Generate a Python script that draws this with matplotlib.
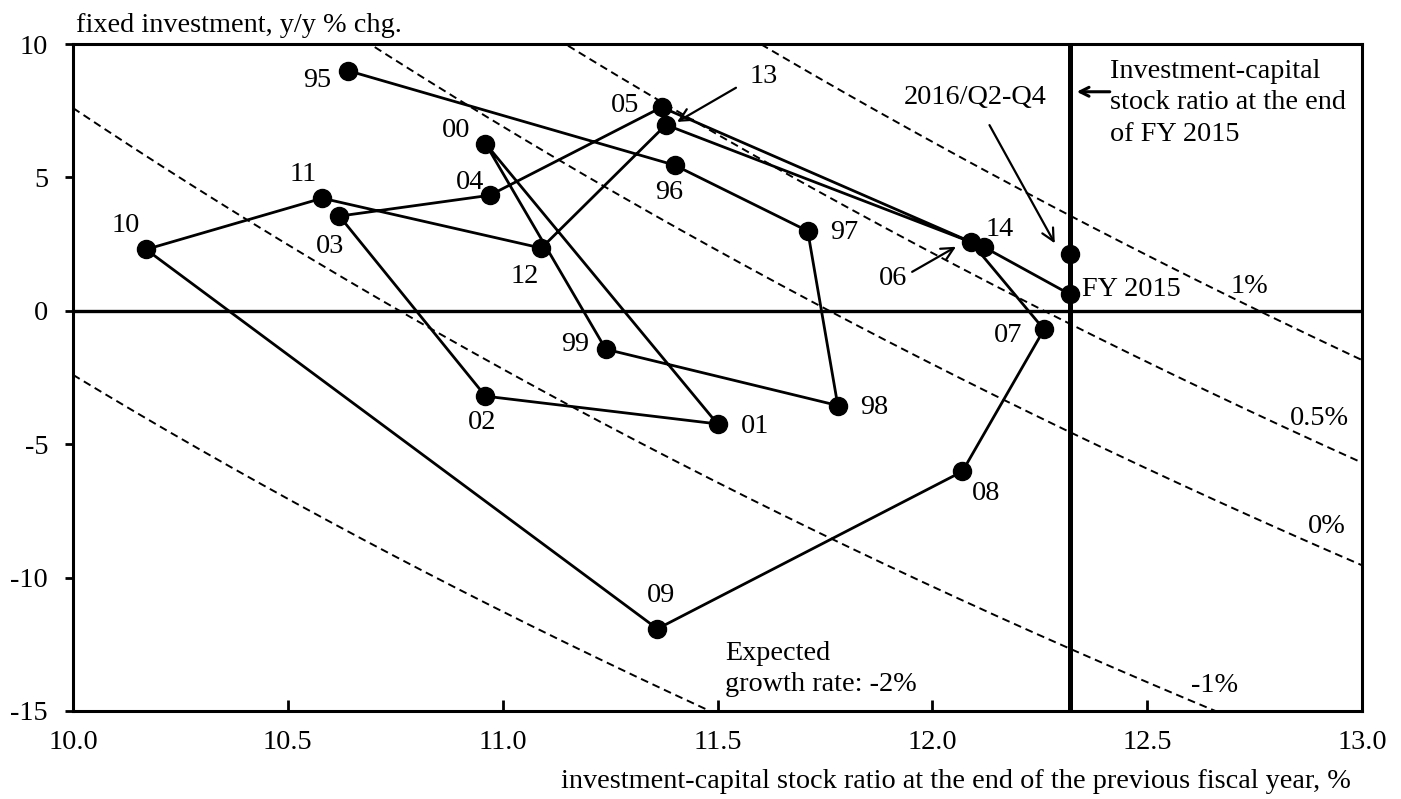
import numpy as np
import matplotlib
matplotlib.use("Agg")
import matplotlib.pyplot as plt

plt.rcParams['font.family'] = ['Liberation Serif', 'DejaVu Serif']

# ---- data ----
years = ['95', '96', '97', '98', '99', '00', '01', '02', '03', '04', '05',
         '06', '07', '08', '09', '10', '11', '12', '13', '14', 'FY 2015']
ik_ratio = [10.64, 11.40, 11.71, 11.78, 11.24, 10.96, 11.50, 10.96, 10.62, 10.97, 11.37,
            12.09, 12.26, 12.07, 11.36, 10.17, 10.58, 11.09, 11.38, 12.12, 12.32]
inv_growth = [9.00, 5.46, 2.99, -3.55, -1.44, 6.27, -4.24, -3.20, 3.55, 4.33, 7.63,
              2.58, -0.70, -6.02, -11.92, 2.30, 4.22, 2.35, 6.97, 2.39, 0.62]
label_x = [10.568, 11.388, 11.794, 11.865, 11.168, 10.891, 11.587, 10.952, 10.599, 10.924, 11.284,
           11.909, 12.177, 12.126, 11.368, 10.123, 10.535, 11.052, 11.607, 12.157, 12.349]
label_y = [8.63, 4.45, 2.92, -3.64, -1.25, 6.75, -4.33, -4.18, 2.40, 4.81, 7.69,
           1.21, -0.94, -6.84, -10.67, 3.20, 5.09, 1.27, 8.80, 3.05, 0.79]

q2016_x = [12.32]
q2016_y = [2.12]
fy2015_ratio = 12.32

growth_rates = [-2.0, -1.0, 0.0, 0.5, 1.0]
depreciation_rate = 11.76
growth_labels = ['Expected\ngrowth rate: -2%', '-1%', '0%', '0.5%', '1%']

xticks = [10.0, 10.5, 11.0, 11.5, 12.0, 12.5, 13.0]
yticks = [-15, -10, -5, 0, 5, 10]

FS = 20.3

fig = plt.figure(figsize=(14.01, 7.99), dpi=100)
ax = fig.add_axes([73/1401, 1-711/799, 1289/1401, 667/799])
ax.set_xlim(10.0, 13.0)
ax.set_ylim(-15, 10)

# iso expected-growth curves
xs = np.linspace(10.0, 13.0, 400)
for g in growth_rates:
    ys = 100.0 * (g + depreciation_rate) / xs - 100.0
    ax.plot(xs, ys, color='black', lw=1.4, linestyle=(0, (4, 2.5)), zorder=1)

# reference lines
ax.axhline(0, color='black', lw=2.4, zorder=2)
ax.axvline(fy2015_ratio, color='black', lw=3.6, zorder=2)

# path
ax.plot(ik_ratio, inv_growth, color='black', lw=2.0, marker='o', ms=13,
        markerfacecolor='black', markeredgecolor='black', zorder=4)
ax.plot(q2016_x, q2016_y, 'o', color='black', ms=13, zorder=4)

for lab, lx, ly in zip(years, label_x, label_y):
    ha = 'left' if lab == 'FY 2015' else 'center'
    ax.text(lx, ly, lab, ha=ha, va='center', fontsize=FS, zorder=5)

# arrows
arrow = dict(arrowstyle='->', color='black', lw=1.6, mutation_scale=22, shrinkA=0, shrinkB=0)
ax.annotate('', xy=(11.406, 7.08), xytext=(11.543, 8.36), arrowprops=arrow)
ax.annotate('', xy=(12.055, 2.40), xytext=(11.953, 1.46), arrowprops=arrow)
ax.annotate('', xy=(12.285, 2.53), xytext=(12.133, 6.96), arrowprops=arrow)
ax.text(12.10, 8.0, '2016/Q2-Q4', ha='center', va='center', fontsize=FS)
ax.annotate('', xy=(12.336, 8.21), xytext=(12.413, 8.21),
            arrowprops=dict(arrowstyle='->', color='black', lw=2.2, mutation_scale=16,
                            shrinkA=0, shrinkB=0))
ax.text(12.414, 7.80, 'Investment-capital\nstock ratio at the end\nof FY 2015',
        ha='left', va='center', fontsize=FS, linespacing=1.35)

# growth-rate labels
ax.text(11.518, -13.43, growth_labels[0], ha='left', va='center', fontsize=FS, linespacing=1.35)
ax.text(12.657, -14.05, growth_labels[1], ha='center', va='center', fontsize=FS)
ax.text(12.918, -8.09, growth_labels[2], ha='center', va='center', fontsize=FS)
ax.text(12.90, -4.02, growth_labels[3], ha='center', va='center', fontsize=FS)
ax.text(12.737, 0.92, growth_labels[4], ha='center', va='center', fontsize=FS)

# axes styling
ax.set_xticks(xticks)
ax.set_xticklabels([f'{t:.1f}' for t in xticks])
ax.set_yticks(yticks)
ax.set_yticklabels([str(t) for t in yticks])
ax.tick_params(axis='x', direction='in', length=8, width=2, pad=14, labelsize=FS)
ax.tick_params(axis='y', direction='out', length=6, width=2, pad=12, labelsize=FS)
for s in ax.spines.values():
    s.set_linewidth(2.2)

fig.text(76/1401, 1-25/799, 'fixed investment, y/y % chg.', ha='left', va='center', fontsize=FS)
fig.text(1351/1401, 1-782/799,
         'investment-capital stock ratio at the end of the previous fiscal year, %',
         ha='right', va='center', fontsize=FS)

fig.savefig('out.png', dpi=100)
